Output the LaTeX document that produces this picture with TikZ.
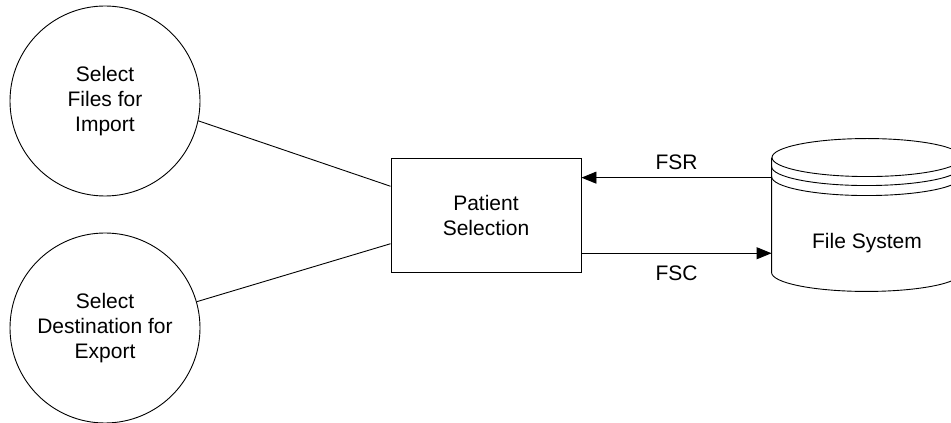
\documentclass[tikz,border=0pt]{standalone}
\usepackage{fontspec}
\setmainfont{Liberation Sans}
\usetikzlibrary{calc,arrows.meta}

\begin{document}
\begin{tikzpicture}[x=1pt,y=1pt,
font=\fontsize{21}{25}\selectfont,
line width=0.9pt,
c/.style={
draw,
circle,
minimum size=190pt,
inner sep=0pt,
align=center},
b/.style={
draw,
minimum width=190pt,
minimum height=114pt,
align=center},
a/.style={-{Triangle[length=15pt,width=12pt]}},
]
\useasboundingbox(0,0)rectangle(951,423);
%Processes
\node[c](imp)at(105,322){Select\\Files for\\Import};
\node[c](exp)at(105,95){Select\\Destination for\\Export};
\node[b](ps)at(486,208){Patient\\Selection};
\draw(imp.-12)--($(ps.north west)!0.25!(ps.south west)$);
\draw(exp.16)--($(ps.north west)!0.75!(ps.south west)$);
%File store
\node[minimum width=190pt,minimum height=114pt](fs)at(867,208){};
\draw(fs.north west)--(fs.south west)arc[start angle=180,end angle=360,x radius=95,y radius=19]--(fs.north east);
\draw(fs.north)ellipse[x radius=95,y radius=19];
\draw([yshift=-9pt]fs.north west)arc[start angle=180,end angle=360,x radius=95,y radius=19];
\draw([yshift=-19pt]fs.north west)arc[start angle=180,end angle=360,x radius=95,y radius=19];
\node(fsl)at($(fs.center)+(0,-28)$){File System};
%% Flows
\draw[a]($(fs.north west)!0.175!(fs.south west)$)--($(ps.north east)!0.175!(ps.south east)$)node[midway,above=4pt]{FSR};
\draw[a]($(ps.north east)!0.833!(ps.south east)$)--($(fs.north west)!0.833!(fs.south west)$)node[midway,below=9pt]{FSC};
\end{tikzpicture}
\end{document}
